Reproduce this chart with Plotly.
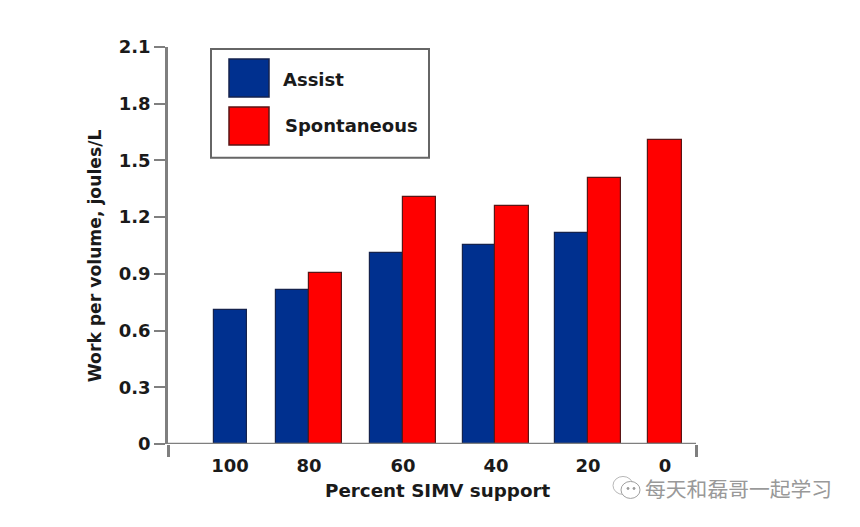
import plotly.graph_objects as go

W, H = 860, 527
PAGE = 8  # the page's own margin around the figure
categories = ["100", "80", "60", "40", "20", "0"]
assist_values = [0.71, 0.815, 1.01, 1.055, 1.115]
spont_values = [0.905, 1.305, 1.26, 1.405, 1.61]
y_ticks = [0, 0.3, 0.6, 0.9, 1.2, 1.5, 1.8, 2.1]
y_labels = ["0", "0.3", "0.6", "0.9", "1.2", "1.5", "1.8", "2.1"]

# layout of the x axis (the original spaces its groups unevenly)
L, R, T, B = 168, 696, 47, 444.5
BW = 33.5
cat_x = [230, 309, 403, 496, 588, 665]
assist_x = [230.5, 292.5, 386.5, 479.5, 572]
spont_x = [325.5, 419.5, 512, 604.5, 665]

BLUE, RED = "#00308F", "#FF0000"
GREY = "#7F7F7F"
FONT = "DejaVu Sans"
INK = "#1a1a1a"
WM = "#999999"

fig = go.Figure()
fig.add_bar(x=assist_x, y=assist_values, width=BW, name="Assist",
            marker=dict(color=BLUE, line=dict(color="#14224d", width=1.2)))
fig.add_bar(x=spont_x, y=spont_values, width=BW, name="Spontaneous",
            marker=dict(color=RED, line=dict(color="#5a1515", width=1.2)))
# carries the end ticks of the x axis
fig.add_scatter(x=[L, R], y=[0, 0], xaxis="x2", mode="lines",
                line=dict(color=GREY, width=2.5), hoverinfo="skip")


def px(x):
    return (x - L) / (R - L)


def py(y):
    return (B - y) / (B - T)


def box(x0, y0, x1, y1, line, fill="rgba(0,0,0,0)", width=1.5, kind="rect"):
    return dict(type=kind, xref="paper", yref="paper", x0=px(x0), x1=px(x1), y0=py(y1), y1=py(y0),
                line=dict(color=line, width=width), fillcolor=fill)


shapes = [
    box(211, 49, 429, 158, "#666666", "white", 2),
    box(229, 59, 269, 97, "#14224d", BLUE),
    box(229, 107, 269, 145, "#5a1515", RED),
    # watermark icon
    box(613, 477, 633, 495, "#b8b8b8", "white", 1, "circle"),
    box(621, 482, 640, 499, "#a0a0a0", "white", 1, "circle"),
    box(627, 488, 629, 490, WM, WM, 1, "circle"),
    box(633, 488, 635, 490, WM, WM, 1, "circle"),
]


def note(x, y, text, size=18, color=INK, anchor="left", angle=0, family=FONT):
    return dict(xref="paper", yref="paper", x=px(x), y=py(y), text=text, showarrow=False,
                xanchor=anchor, yanchor="middle", textangle=angle,
                font=dict(family=family, size=size, color=color))


annotations = [
    note(281, 80, "<b>Assist</b>"),
    note(283, 126, "<b>Spontaneous</b>"),
    note(437, 491, "<b>Percent SIMV support</b>", 18.3, anchor="center"),
    note(95, 256.5, "<b>Work per volume, joules/L</b>", 17.2, anchor="center", angle=-90),
    note(643, 489, "每天和磊哥一起学习", 20.8, color=WM, family="Noto Sans CJK SC"),
]

fig.update_layout(
    width=W - 2 * PAGE, height=H - 2 * PAGE, autosize=False, showlegend=False,
    margin=dict(l=L - PAGE, r=W - PAGE - R, t=T - PAGE, b=H - PAGE - B, pad=0, autoexpand=False),
    paper_bgcolor="white", plot_bgcolor="white",
    barmode="overlay", bargap=0,
    font=dict(family=FONT, size=18, color=INK),
    shapes=shapes, annotations=annotations,
    xaxis=dict(range=[L, R], tickmode="array", tickvals=cat_x,
               ticktext=[f"<b>{c}</b>" for c in categories], ticks="outside", ticklen=5,
               tickcolor="rgba(0,0,0,0)", showgrid=False, zeroline=False, showline=False,
               tickfont=dict(family=FONT, size=18, color=INK)),
    xaxis2=dict(range=[L, R], overlaying="x", anchor="y", tickmode="array",
                tickvals=[L, R], ticktext=["", ""], ticks="outside", ticklen=12, tickwidth=2.5,
                tickcolor=GREY, showgrid=False, zeroline=False, showline=False),
    yaxis=dict(range=[0, 2.1], tickmode="array", tickvals=y_ticks,
               ticktext=[f"<b>{t}</b>" for t in y_labels], ticks="outside", ticklen=11, tickwidth=2,
               tickcolor=GREY, showgrid=False, zeroline=False, showline=True, linecolor=GREY,
               linewidth=2.5, tickfont=dict(family=FONT, size=18, color=INK)),
)
fig.write_html("out.html")
